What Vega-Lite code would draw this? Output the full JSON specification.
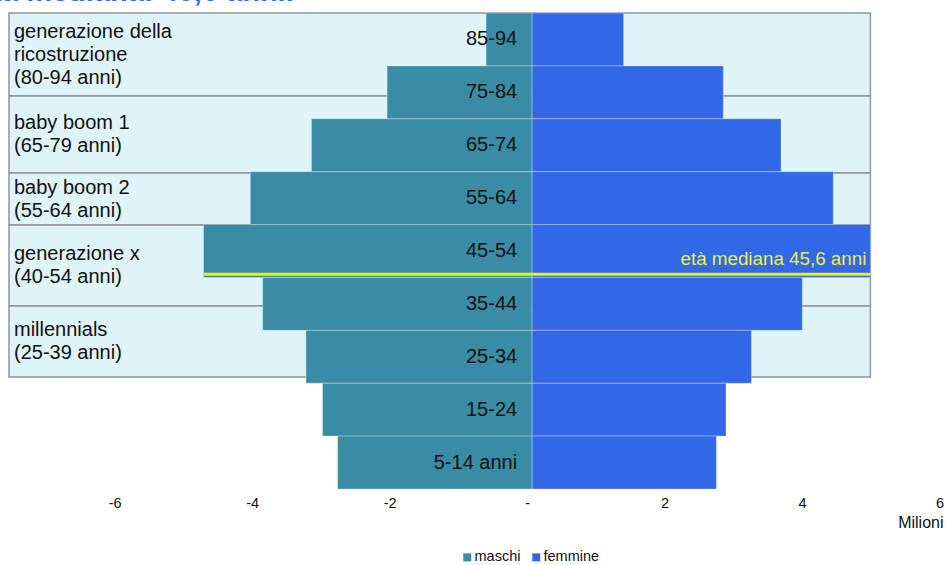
{
  "$schema": "https://vega.github.io/schema/vega-lite/v6.json",
  "width": 937,
  "height": 476,
  "autosize": "none",
  "padding": {"left": 9, "top": 13, "right": 0, "bottom": 76},
  "background": "white",
  "title": {
    "text": "Età mediana: 45,6 anni.",
    "anchor": "start",
    "frame": "group",
    "font": "Liberation Sans",
    "fontSize": 29,
    "fontWeight": "bold",
    "color": "#2f6ee6",
    "dx": -36,
    "dy": -5,
    "offset": 0
  },
  "config": {
    "view": {"stroke": null},
    "font": "Liberation Sans",
    "axisX": {
      "tickCount": 7,
      "labelExpr": "datum.value == 0 ? '-' : '' + datum.value",
      "labelOffset": -5,
      "labelFontSize": 14.5,
      "labelColor": "#111111",
      "labelFont": "Liberation Sans",
      "labelPadding": 7,
      "domain": false,
      "ticks": false,
      "grid": false,
      "titleFontSize": 16,
      "titleFont": "Liberation Sans",
      "titleFontWeight": "normal",
      "titleColor": "#111111",
      "titleAnchor": "end",
      "titleAlign": "right",
      "titleX": 934,
      "titleY": 25,
      "titleBaseline": "top"
    }
  },
  "datasets": {
    "bars": [
      {"eta": "85-94", "lo": 85, "hi": 95, "sesso": "maschi", "v": -0.67},
      {"eta": "75-84", "lo": 75, "hi": 85, "sesso": "maschi", "v": -2.11},
      {"eta": "65-74", "lo": 65, "hi": 75, "sesso": "maschi", "v": -3.21},
      {"eta": "55-64", "lo": 55, "hi": 65, "sesso": "maschi", "v": -4.10},
      {"eta": "45-54", "lo": 45, "hi": 55, "sesso": "maschi", "v": -4.78},
      {"eta": "35-44", "lo": 35, "hi": 45, "sesso": "maschi", "v": -3.92},
      {"eta": "25-34", "lo": 25, "hi": 35, "sesso": "maschi", "v": -3.29},
      {"eta": "15-24", "lo": 15, "hi": 25, "sesso": "maschi", "v": -3.05},
      {"eta": "5-14", "lo": 5, "hi": 15, "sesso": "maschi", "v": -2.83},
      {"eta": "85-94", "lo": 85, "hi": 95, "sesso": "femmine", "v": 1.33},
      {"eta": "75-84", "lo": 75, "hi": 85, "sesso": "femmine", "v": 2.78},
      {"eta": "65-74", "lo": 65, "hi": 75, "sesso": "femmine", "v": 3.62},
      {"eta": "55-64", "lo": 55, "hi": 65, "sesso": "femmine", "v": 4.38},
      {"eta": "45-54", "lo": 45, "hi": 55, "sesso": "femmine", "v": 4.92},
      {"eta": "35-44", "lo": 35, "hi": 45, "sesso": "femmine", "v": 3.93},
      {"eta": "25-34", "lo": 25, "hi": 35, "sesso": "femmine", "v": 3.19},
      {"eta": "15-24", "lo": 15, "hi": 25, "sesso": "femmine", "v": 2.82},
      {"eta": "5-14", "lo": 5, "hi": 15, "sesso": "femmine", "v": 2.68}
    ],
    "ages": [
      {"label": "85-94", "mid": 90},
      {"label": "75-84", "mid": 80},
      {"label": "65-74", "mid": 70},
      {"label": "55-64", "mid": 60},
      {"label": "45-54", "mid": 50},
      {"label": "35-44", "mid": 40},
      {"label": "25-34", "mid": 30},
      {"label": "15-24", "mid": 20},
      {"label": "5-14 anni", "mid": 10}
    ],
    "bands": [
      {"nome": "generazione della\nricostruzione\n(80-94 anni)", "righe": 3, "top": 95, "bot": 79.3, "mid": 87.15, "xs": -7.61, "xe": 4.92},
      {"nome": "baby boom 1\n(65-79 anni)", "righe": 2, "top": 79.3, "bot": 64.75, "mid": 72.03, "xs": -7.61, "xe": 4.92},
      {"nome": "baby boom 2\n(55-64 anni)", "righe": 2, "top": 64.75, "bot": 54.9, "mid": 59.83, "xs": -7.61, "xe": 4.92},
      {"nome": "generazione x\n(40-54 anni)", "righe": 2, "top": 54.9, "bot": 39.6, "mid": 47.25, "xs": -7.61, "xe": 4.92},
      {"nome": "millennials\n(25-39 anni)", "righe": 2, "top": 39.6, "bot": 26.2, "mid": 32.9, "xs": -7.61, "xe": 4.92}
    ],
    "median": [
      {"eta": 45.6, "x1": -4.78, "x2": 4.92, "testo": "età mediana 45,6 anni"}
    ]
  },
  "layer": [
    {
      "data": {"name": "bands"},
      "mark": {"type": "rect", "fill": "#dff4f9", "stroke": "#8c979b", "strokeWidth": 1.5},
      "encoding": {
        "x": {
          "field": "xs", "type": "quantitative",
          "scale": {"domain": [-7.61, 6.02], "nice": false, "zero": false},
          "title": "Milioni",
          "axis": {"labelFontSize": 14.5, "labelFont": "Liberation Sans", "labelColor": "#111111"}
        },
        "x2": {"field": "xe"},
        "y": {"field": "top", "type": "quantitative", "scale": {"domain": [5, 95], "nice": false, "zero": false}, "axis": null},
        "y2": {"field": "bot"}
      }
    },
    {
      "data": {"name": "bars"},
      "mark": {"type": "rect", "stroke": "white", "strokeOpacity": 0.3, "strokeWidth": 1},
      "encoding": {
        "x": {"field": "v", "type": "quantitative", "title": "Milioni"},
        "x2": {"datum": 0},
        "y": {"field": "hi", "type": "quantitative", "axis": null},
        "y2": {"field": "lo"},
        "color": {
          "field": "sesso", "type": "nominal",
          "scale": {"domain": ["maschi", "femmine"], "range": ["#3a8ca6", "#3267e8"]},
          "legend": {
            "title": null,
            "orient": "none",
            "direction": "horizontal",
            "legendX": 451,
            "legendY": 537,
            "symbolType": "square",
            "symbolSize": 64,
            "symbolStrokeWidth": 0,
            "labelFontSize": 14.5,
            "labelColor": "#111111",
            "labelFont": "Liberation Sans",
            "columnPadding": 8,
            "labelOffset": 0
          }
        }
      }
    },
    {
      "data": {"name": "ages"},
      "mark": {"type": "text", "align": "right", "baseline": "middle", "dx": -15, "fontSize": 20, "color": "#111111"},
      "encoding": {
        "x": {"datum": 0, "type": "quantitative", "title": "Milioni"},
        "y": {"field": "mid", "type": "quantitative", "axis": null},
        "text": {"field": "label"}
      }
    },
    {
      "data": {"name": "bands"},
      "transform": [{"filter": "datum.righe == 3"}],
      "mark": {"type": "text", "align": "left", "baseline": "middle", "dx": 5, "dy": -23, "fontSize": 20, "lineHeight": 23, "lineBreak": "\n", "color": "#111111"},
      "encoding": {
        "x": {"field": "xs", "type": "quantitative", "title": "Milioni"},
        "y": {"field": "mid", "type": "quantitative", "axis": null},
        "text": {"field": "nome"}
      }
    },
    {
      "data": {"name": "bands"},
      "transform": [{"filter": "datum.righe == 2"}],
      "mark": {"type": "text", "align": "left", "baseline": "middle", "dx": 5, "dy": -11.5, "fontSize": 20, "lineHeight": 23, "lineBreak": "\n", "color": "#111111"},
      "encoding": {
        "x": {"field": "xs", "type": "quantitative", "title": "Milioni"},
        "y": {"field": "mid", "type": "quantitative", "axis": null},
        "text": {"field": "nome"}
      }
    },
    {
      "data": {"name": "median"},
      "mark": {"type": "rule", "color": "#f2f200", "strokeWidth": 3},
      "encoding": {
        "x": {"field": "x1", "type": "quantitative", "title": "Milioni"},
        "x2": {"field": "x2"},
        "y": {"field": "eta", "type": "quantitative", "axis": null}
      }
    },
    {
      "data": {"name": "median"},
      "mark": {"type": "text", "align": "right", "baseline": "middle", "dx": -4, "dy": -15, "fontSize": 18.8, "color": "#f0f03a"},
      "encoding": {
        "x": {"field": "x2", "type": "quantitative", "title": "Milioni"},
        "y": {"field": "eta", "type": "quantitative", "axis": null},
        "text": {"field": "testo"}
      }
    }
  ]
}
